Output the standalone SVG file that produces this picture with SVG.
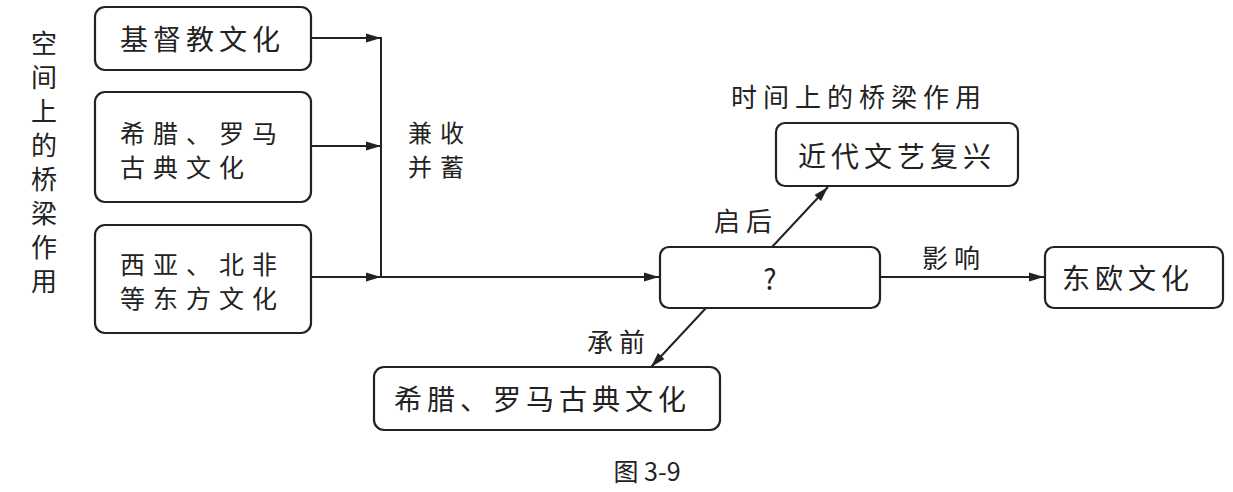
<svg xmlns="http://www.w3.org/2000/svg" width="1233" height="492" viewBox="0 0 1233 492">
<style>
.box{fill:#fff;stroke:#222;stroke-width:2.2}
.t{font-family:"Noto Sans CJK SC","Noto Sans",sans-serif;font-size:28px;fill:#222;letter-spacing:5px;dominant-baseline:central}
.t2{font-family:"Noto Sans CJK SC","Noto Sans",sans-serif;font-size:25px;fill:#222;letter-spacing:8px;dominant-baseline:central}
.lbl{font-family:"Noto Sans CJK SC","Noto Sans",sans-serif;font-size:26px;fill:#222;letter-spacing:6px;dominant-baseline:central}
.lbl2{font-family:"Noto Sans CJK SC","Noto Sans",sans-serif;font-size:24px;fill:#222;letter-spacing:8px;dominant-baseline:central}
.c{text-anchor:middle}
.ln{fill:none;stroke:#222;stroke-width:2}
</style>
<defs>
<marker id="ah" markerUnits="userSpaceOnUse" markerWidth="16" markerHeight="10" refX="15" refY="5" orient="auto">
<path d="M0,0.5 L15,5 L0,9.5 z" fill="#222"/>
</marker>
</defs>
<rect width="1233" height="492" fill="#fff"/>
<g id="label-space">
<text class="lbl c" x="47" y="41">空</text>
<text class="lbl c" x="47" y="75">间</text>
<text class="lbl c" x="47" y="109">上</text>
<text class="lbl c" x="47" y="143">的</text>
<text class="lbl c" x="47" y="177">桥</text>
<text class="lbl c" x="47" y="211">梁</text>
<text class="lbl c" x="47" y="245">作</text>
<text class="lbl c" x="47" y="279">用</text>
</g>
<g id="n-christian">
<rect class="box" x="95" y="7" width="216" height="63" rx="10"/>
<text class="t" x="120" y="38">基督教文化</text>
</g>
<g id="n-greekroman1">
<rect class="box" x="95" y="92" width="216" height="110" rx="10"/>
<text class="t2" x="120" y="132">希腊、罗马</text>
<text class="t2" x="120" y="166">古典文化</text>
</g>
<g id="n-east">
<rect class="box" x="95" y="225" width="216" height="108" rx="10"/>
<text class="t2" x="120" y="263">西亚、北非</text>
<text class="t2" x="120" y="297">等东方文化</text>
</g>
<g id="n-q">
<rect class="box" x="660" y="247" width="220" height="61" rx="9"/>
<text class="t c" x="770" y="278" style="letter-spacing:0">?</text>
</g>
<g id="n-renaissance">
<rect class="box" x="776" y="123" width="242" height="63" rx="9"/>
<text class="t" x="798" y="155">近代文艺复兴</text>
</g>
<g id="n-easteurope">
<rect class="box" x="1045" y="247" width="178" height="61" rx="9"/>
<text class="t" x="1062" y="277">东欧文化</text>
</g>
<g id="n-greekroman2">
<rect class="box" x="374" y="367" width="346" height="63" rx="10"/>
<text class="t" x="394" y="398">希腊、罗马古典文化</text>
</g>
<g id="labels">
<text class="lbl2" x="408" y="131">兼收</text>
<text class="lbl2" x="408" y="165">并蓄</text>
<text class="lbl" x="731" y="95">时间上的桥梁作用</text>
<text class="lbl" x="714" y="219">启后</text>
<text class="lbl" x="922" y="256">影响</text>
<text class="lbl" x="587" y="340">承前</text>
<text x="647" y="470" text-anchor="middle" dominant-baseline="central" style="font-family:'Noto Sans CJK SC','Liberation Sans',sans-serif;font-size:25px;fill:#222">图 3-9</text>
</g>
<g id="connectors">
<line class="ln" x1="311" y1="38" x2="381" y2="38" marker-end="url(#ah)"/>
<line class="ln" x1="311" y1="146" x2="381" y2="146" marker-end="url(#ah)"/>
<line class="ln" x1="311" y1="277" x2="381" y2="277" marker-end="url(#ah)"/>
<line class="ln" x1="381" y1="37" x2="381" y2="278"/>
<line class="ln" x1="381" y1="277" x2="659" y2="277" marker-end="url(#ah)"/>
<line class="ln" x1="772" y1="247" x2="828" y2="187" marker-end="url(#ah)"/>
<line class="ln" x1="880" y1="277" x2="1044" y2="277" marker-end="url(#ah)"/>
<line class="ln" x1="706" y1="308" x2="651" y2="367" marker-end="url(#ah)"/>
</g>
</svg>
